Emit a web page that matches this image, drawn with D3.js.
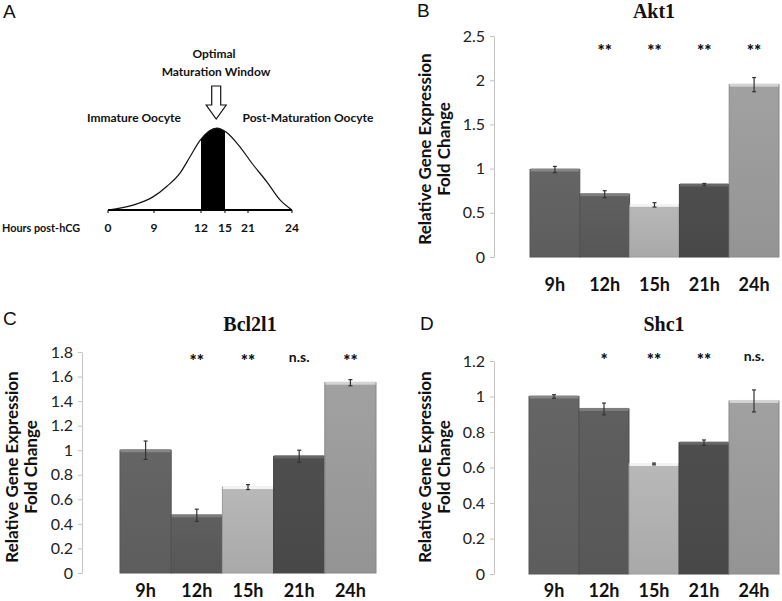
<!DOCTYPE html>
<meta charset='utf-8'>
<style>
	body {
		margin: 0;
		background: #fff;
	}

	svg {
		display: block;
	}

	text {
		font-family: Lato, 'Open Sans', sans-serif;
		fill: #111;
	}

	.letter {
		font-family: 'Liberation Sans', Arial, sans-serif;
		font-size: 19px;
	}

	.title {
		font-family: 'Liberation Serif', 'Times New Roman', serif;
		font-weight: bold;
		font-size: 20px;
		text-anchor: middle;
	}

	.tick text {
		font-size: 16px;
		fill: #222;
	}

	.tick line, .domain {
		stroke: #c4c4c4;
	}

	.xlab {
		font-size: 18px;
		font-weight: bold;
		text-anchor: middle;
	}

	.sig {
		font-size: 17px;
		font-weight: 900;
		text-anchor: middle;
	}

	.ytitle {
		font-size: 17px;
		font-weight: bold;
		text-anchor: middle;
	}

	.schem {
		font-size: 12px;
		font-weight: bold;
		text-anchor: middle;
	}
</style>
<body>
<script src='https://cdn.jsdelivr.net/npm/d3@7'></script>

<script type='text/javascript'>
	// bar charts (B, C, D)
	var hours = ['9h', '12h', '15h', '21h', '24h'];
	var barShades = ['#616161', '#5b5b5b', '#b0b0b0', '#4b4b4b', '#9a9a9a'];

	var akt1Mean = [0.99, 0.71, 0.59, 0.82, 1.95];
	var akt1Err = [0.035, 0.04, 0.025, 0.012, 0.08];
	var akt1Sig = ['', '**', '**', '**', '**'];

	var bcl2l1Mean = [1.0, 0.47, 0.70, 0.95, 1.55];
	var bcl2l1Err = [0.075, 0.05, 0.02, 0.05, 0.025];
	var bcl2l1Sig = ['', '**', '**', 'n.s.', '**'];

	var shc1Mean = [1.0, 0.93, 0.62, 0.74, 0.975];
	var shc1Err = [0.01, 0.033, 0.005, 0.015, 0.062];
	var shc1Sig = ['', '*', '**', '**', 'n.s.'];

	// schematic (A)
	var hourTicks = [0, 9, 12, 15, 21, 24];
	var curveHours = [0, 4.9, 8.8, 9.83, 10.66, 11.3, 11.94, 14.0, 15.26, 18.9, 21.27, 22.3, 23.2, 24];
	var curveLevel = [0, 0.06, 0.16, 0.29, 0.45, 0.65, 0.85, 1.0, 0.95, 0.77, 0.57, 0.34, 0.12, 0];
	var windowHours = [12, 15];
	var peakHour = 13.9;

	var svgW = 782, svgH = 601;
	var svg = d3.select('body').append('svg').attr('width', svgW).attr('height', svgH);

	// ---- panel A ----
	(function () {
		var g = svg.append('g');
		g.append('text').attr('class', 'letter').attr('x', 3).attr('y', 18).text('A');

		var x = d3.scaleLinear().domain(hourTicks).range([108, 154, 201, 225, 248, 292]);
		var y = d3.scaleLinear().domain([0, 1]).range([210, 128]);

		var pts = curveHours.map(function (h, i) { return [x(h), y(curveLevel[i])]; });

		g.append('clipPath').attr('id', 'win')
			.append('rect')
			.attr('x', x(windowHours[0])).attr('y', 0)
			.attr('width', x(windowHours[1]) - x(windowHours[0])).attr('height', svgH);

		g.append('path').datum(pts)
			.attr('clip-path', 'url(#win)')
			.attr('fill', '#000')
			.attr('d', d3.area().x(function (d) { return d[0]; }).y0(y(0)).y1(function (d) { return d[1]; })
				.curve(d3.curveMonotoneX));

		g.append('path').datum(pts)
			.attr('fill', 'none').attr('stroke', '#111').attr('stroke-width', 1.2)
			.attr('d', d3.line().x(function (d) { return d[0]; }).y(function (d) { return d[1]; })
				.curve(d3.curveMonotoneX));

		g.append('line')
			.attr('x1', x(0)).attr('x2', x(24)).attr('y1', y(0)).attr('y2', y(0))
			.attr('stroke', '#000').attr('stroke-width', 2);

		g.selectAll('.htick').data(hourTicks).enter().append('line')
			.attr('x1', function (d) { return x(d); }).attr('x2', function (d) { return x(d); })
			.attr('y1', y(0)).attr('y2', y(0) + 3)
			.attr('stroke', '#000').attr('stroke-width', 1);

		g.selectAll('.hlab').data(hourTicks).enter().append('text')
			.attr('class', 'schem')
			.attr('x', function (d) { return x(d); }).attr('y', 232)
			.text(function (d) { return d; });

		g.append('text').attr('class', 'schem').attr('x', 2).attr('y', 232)
			.style('text-anchor', 'start')
			.attr('textLength', 78).attr('lengthAdjust', 'spacingAndGlyphs')
			.text('Hours post-hCG');
		g.append('text').attr('class', 'schem').attr('x', 134).attr('y', 122).text('Immature Oocyte');
		g.append('text').attr('class', 'schem').attr('x', 308).attr('y', 122).text('Post-Maturation Oocyte');
		g.append('text').attr('class', 'schem').attr('x', 214).attr('y', 58).text('Optimal');
		g.append('text').attr('class', 'schem').attr('x', 216).attr('y', 76).text('Maturation Window');

		// hollow arrow pointing at the window
		var ax = x(peakHour);
		var arrow = d3.path();
		arrow.moveTo(ax - 4.5, 86);
		arrow.lineTo(ax + 4.5, 86);
		arrow.lineTo(ax + 4.5, 105);
		arrow.lineTo(ax + 10, 105);
		arrow.lineTo(ax, 119);
		arrow.lineTo(ax - 10, 105);
		arrow.lineTo(ax - 4.5, 105);
		arrow.closePath();
		g.append('path').attr('d', arrow.toString())
			.attr('fill', '#fff').attr('stroke', '#111').attr('stroke-width', 1.2);
	})();

	// ---- bar panels ----
	var defs = svg.append('defs');
	barShades.forEach(function (c, i) {
		var grad = defs.append('linearGradient').attr('id', 'shade' + i)
			.attr('x1', 0).attr('x2', 0).attr('y1', 0).attr('y2', 1);
		grad.append('stop').attr('offset', '0%').attr('stop-color', d3.color(c).brighter(0.12));
		grad.append('stop').attr('offset', '100%').attr('stop-color', d3.color(c).darker(0.12));
	});

	function barPanel(o) {
		var g = svg.append('g');

		var x = d3.scaleBand().domain(hours).range([o.barLeft, o.barRight]).paddingInner(0);
		var y = d3.scaleLinear().domain([0, o.yMax]).range([o.y0, o.yTop]);

		var axis = d3.axisLeft(y)
			.tickValues(d3.range(0, o.yMax + 1e-9, o.yStep))
			.tickFormat(d3.format('~g'))
			.tickSize(4).tickSizeOuter(0).tickPadding(5);

		g.append('g').attr('transform', 'translate(' + o.axisX + ',0)').call(axis)
			.attr('font-family', null).attr('font-size', null);

		var bars = g.selectAll('.bar').data(o.mean).enter().append('g');

		bars.append('rect')
			.attr('x', function (d, i) { return x(hours[i]); })
			.attr('y', function (d) { return y(d); })
			.attr('width', x.bandwidth())
			.attr('height', function (d) { return o.y0 - y(d); })
			.attr('fill', function (d, i) { return 'url(#shade' + i + ')'; })
			.attr('stroke', function (d, i) { return d3.color(barShades[i]).darker(0.35); })
			.attr('stroke-width', 1);

		// light top edge
		bars.append('rect')
			.attr('x', function (d, i) { return x(hours[i]) + 0.5; })
			.attr('y', function (d) { return y(d) - 1; })
			.attr('width', x.bandwidth() - 1)
			.attr('height', 3)
			.attr('fill', function (d, i) { return d3.color(barShades[i]).brighter(0.9); });

		// error bars
		var eb = g.selectAll('.err').data(o.mean).enter().append('g')
			.attr('stroke', '#333').attr('stroke-width', 1.2);
		eb.append('line')
			.attr('x1', function (d, i) { return x(hours[i]) + x.bandwidth() / 2; })
			.attr('x2', function (d, i) { return x(hours[i]) + x.bandwidth() / 2; })
			.attr('y1', function (d, i) { return y(d - o.err[i]); })
			.attr('y2', function (d, i) { return y(d + o.err[i]); });
		[-1, 1].forEach(function (s) {
			eb.append('line')
				.attr('x1', function (d, i) { return x(hours[i]) + x.bandwidth() / 2 - 2; })
				.attr('x2', function (d, i) { return x(hours[i]) + x.bandwidth() / 2 + 2; })
				.attr('y1', function (d, i) { return y(d + s * o.err[i]); })
				.attr('y2', function (d, i) { return y(d + s * o.err[i]); });
		});

		g.selectAll('.xlab').data(hours).enter().append('text')
			.attr('class', 'xlab')
			.attr('x', function (d) { return x(d) + x.bandwidth() / 2; })
			.attr('y', o.labelY)
			.text(function (d) { return d; });

		g.selectAll('.sig').data(o.sig).enter().append('text')
			.attr('class', 'sig')
			.attr('x', function (d, i) { return x(hours[i]) + x.bandwidth() / 2; })
			.attr('y', function (d) { return d === 'n.s.' ? o.sigY - 1 : o.sigY + 4; })
			.style('font-size', function (d) { return d === 'n.s.' ? '14px' : null; })
			.style('font-weight', function (d) { return d === 'n.s.' ? 'bold' : null; })
			.text(function (d) { return d; });

		g.append('text').attr('class', 'title').attr('x', o.titleX).attr('y', o.titleY).text(o.title);
		g.append('text').attr('class', 'letter').attr('x', o.letterX).attr('y', o.letterY).text(o.letter);

		var yt = g.append('g').attr('transform', 'translate(' + o.ytX + ',' + o.ytY + ') rotate(-90)');
		yt.append('text').attr('class', 'ytitle').attr('x', 0).attr('y', 0).text('Relative Gene Expression');
		yt.append('text').attr('class', 'ytitle').attr('x', 0).attr('y', 19).text('Fold Change');
	}

	barPanel({
		letter: 'B', title: 'Akt1', mean: akt1Mean, err: akt1Err, sig: akt1Sig,
		yMax: 2.5, yStep: 0.5,
		axisX: 494, y0: 257, yTop: 36, barLeft: 530, barRight: 779,
		labelY: 291, sigY: 53, titleX: 654, titleY: 18,
		letterX: 417, letterY: 17, ytX: 431, ytY: 149
	});

	barPanel({
		letter: 'C', title: 'Bcl2l1', mean: bcl2l1Mean, err: bcl2l1Err, sig: bcl2l1Sig,
		yMax: 1.8, yStep: 0.2,
		axisX: 82, y0: 573, yTop: 352, barLeft: 120, barRight: 376,
		labelY: 597, sigY: 363, titleX: 250, titleY: 331,
		letterX: 3, letterY: 325, ytX: 18, ytY: 467
	});

	barPanel({
		letter: 'D', title: 'Shc1', mean: shc1Mean, err: shc1Err, sig: shc1Sig,
		yMax: 1.2, yStep: 0.2,
		axisX: 494, y0: 574, yTop: 361, barLeft: 529, barRight: 779,
		labelY: 597, sigY: 362, titleX: 664, titleY: 331,
		letterX: 420, letterY: 330, ytX: 431, ytY: 467
	});
</script>
